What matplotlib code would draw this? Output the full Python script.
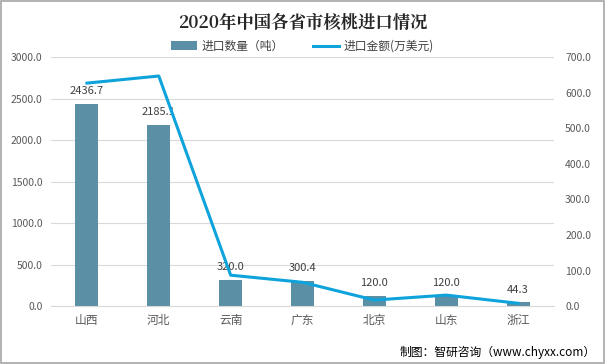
import numpy as np
import matplotlib.pyplot as plt

plt.rcParams['font.family'] = ['Noto Sans CJK SC', 'DejaVu Sans']

provinces = ['山西', '河北', '云南', '广东', '北京', '山东', '浙江']
qty = [2436.7, 2185.1, 320.0, 300.4, 120.0, 120.0, 44.3]      # 进口数量（吨）
amount = [627, 647, 87, 67, 17, 31, 8]                        # 进口金额(万美元)
left_ticks = [0, 500, 1000, 1500, 2000, 2500, 3000]
right_ticks = [0, 100, 200, 300, 400, 500, 600, 700]

bar_color = '#5b8fa6'
line_color = '#0fa3db'
tick_color = '#595959'

fig = plt.figure(figsize=(6.05, 3.64), dpi=100)
fig.patches.append(plt.Rectangle((0.002, 0.003), 0.996, 0.994, transform=fig.transFigure,
                                 fill=False, edgecolor='#a6a6a6', linewidth=1.2))

ax = fig.add_axes([0.0843, 0.159, 0.8314, 0.684])
x = np.arange(len(provinces))
ax.bar(x, qty, width=0.32, color=bar_color, zorder=2, label='进口数量（吨）')
for xi, v in zip(x, qty):
    ax.text(xi, v + 95, f'{v:.1f}', ha='center', va='bottom', fontsize=8, color='#404040', zorder=5)

ax.set_xlim(-0.5, len(provinces) - 0.5)
ax.set_ylim(0, 3000)
ax.set_yticks(left_ticks)
ax.set_yticklabels([f'{t:.1f}' for t in left_ticks], fontsize=7.5, color=tick_color)
ax.set_xticks(x)
ax.set_xticklabels(provinces, fontsize=8.5, color=tick_color)
ax.tick_params(axis='both', length=0, pad=6)
ax.grid(axis='y', color='#d9d9d9', linewidth=0.8, zorder=0)
for s in ['top', 'right', 'left']:
    ax.spines[s].set_visible(False)
ax.spines['bottom'].set_color('#d9d9d9')

ax2 = ax.twinx()
ax2.plot(x, amount, color=line_color, linewidth=2.2, zorder=3, label='进口金额(万美元)')
ax2.set_ylim(0, 700)
ax2.set_yticks(right_ticks)
ax2.set_yticklabels([f'{t:.1f}' for t in right_ticks], fontsize=7.5, color=tick_color)
ax2.tick_params(axis='y', length=0, pad=8)
for s in ['top', 'right', 'left', 'bottom']:
    ax2.spines[s].set_visible(False)

fig.text(0.5, 0.94, '2020年中国各省市核桃进口情况', ha='center', va='center',
         fontsize=12.5, fontweight='bold', color='#262626',
         family=['Noto Serif CJK SC', 'Noto Sans CJK SC', 'DejaVu Sans'])

h1, l1 = ax.get_legend_handles_labels()
h2, l2 = ax2.get_legend_handles_labels()
fig.legend(h1 + h2, l1 + l2, loc='center', bbox_to_anchor=(0.5, 0.873), ncol=2,
           frameon=False, fontsize=8.5, handlelength=2.2, columnspacing=2.5,
           labelcolor='#404040', handletextpad=0.4)

fig.text(0.985, 0.033, '制图：智研咨询（www.chyxx.com）', ha='right', va='center',
         fontsize=8.5, color='#000000')

fig.savefig('out.png', dpi=100)
